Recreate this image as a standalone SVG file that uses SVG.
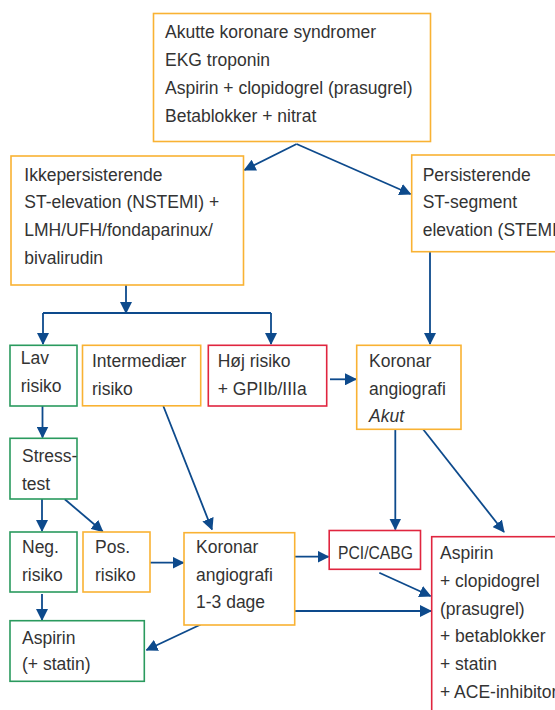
<svg xmlns="http://www.w3.org/2000/svg" width="555" height="710" viewBox="0 0 555 710">
<defs>
<style>
.t{font-family:"Liberation Sans",Arial,sans-serif;font-size:17.5px;fill:#333333}
.i{font-style:italic}
.o{fill:#ffffff;stroke:#f9b233;stroke-width:1.6}
.g{fill:#ffffff;stroke:#2a9a5e;stroke-width:1.6}
.r{fill:#ffffff;stroke:#e0253f;stroke-width:1.6}
.c{fill:none;stroke:#0d4a8c;stroke-width:1.8}
.ca{fill:none;stroke:#0d4a8c;stroke-width:1.8;marker-end:url(#ah)}
</style>
<marker id="ah" markerUnits="userSpaceOnUse" markerWidth="12" markerHeight="12" refX="11" refY="6" orient="auto" viewBox="0 0 12 12">
<path d="M0,0 L12,6 L0,12 z" fill="#0d4a8c"/>
</marker>
</defs>
<rect width="555" height="710" fill="#ffffff"/>

<g id="connectors">
<path class="ca" d="M296.6,144 L244.5,170"/>
<path class="ca" d="M296.6,144 L410.5,194"/>
<path class="ca" d="M126,285 L126,313"/>
<path class="c" d="M43,313 L271,313"/>
<path class="ca" d="M43,313 L43,344"/>
<path class="ca" d="M271,313 L271,344"/>
<path class="ca" d="M430,252 L430,344"/>
<path class="ca" d="M330,379.3 L356,379.3"/>
<path class="ca" d="M42.5,406 L42.5,437.5"/>
<path class="ca" d="M42,499 L42,531"/>
<path class="ca" d="M64.8,499.3 L102.7,531.5"/>
<path class="ca" d="M163.3,406 L212,529.5"/>
<path class="ca" d="M42,594 L42,620"/>
<path class="ca" d="M150,562.7 L183.5,562.7"/>
<path class="ca" d="M200.7,624.5 L146.5,650"/>
<path class="ca" d="M294.5,556.7 L328.5,556.7"/>
<path class="ca" d="M294.7,611 L431,611"/>
<path class="ca" d="M395.3,429.5 L395.3,529.5"/>
<path class="ca" d="M423.3,429.5 L504,532"/>
<path class="ca" d="M379.3,572.7 L430.5,596"/>
</g>

<g id="node-top">
<rect class="o" x="153.5" y="13.5" width="277" height="128"/>
<text class="t" x="165" y="37.5">Akutte koronare syndromer</text>
<text class="t" x="165" y="65.5">EKG troponin</text>
<text class="t" x="165" y="93.5">Aspirin + clopidogrel (prasugrel)</text>
<text class="t" x="165" y="121.5">Betablokker + nitrat</text>
</g>

<g id="node-nstemi">
<rect class="o" x="11" y="156" width="232.5" height="129"/>
<text class="t" x="24.3" y="180.7">Ikkepersisterende</text>
<text class="t" x="24.3" y="208.4">ST-elevation (NSTEMI) +</text>
<text class="t" x="24.3" y="236.1">LMH/UFH/fondaparinux/</text>
<text class="t" x="24.3" y="263.8">bivalirudin</text>
</g>

<g id="node-stemi">
<rect class="o" x="411.7" y="155" width="160" height="96.7"/>
<text class="t" x="422.7" y="180.7">Persisterende</text>
<text class="t" x="422.7" y="208.4">ST-segment</text>
<text class="t" x="422.7" y="236.1">elevation (STEMI)</text>
</g>

<g id="node-lav">
<rect class="g" x="10" y="345.3" width="67" height="60.7"/>
<text class="t" x="20.7" y="364">Lav</text>
<text class="t" x="20.7" y="391.7">risiko</text>
</g>

<g id="node-intermediaer">
<rect class="o" x="82.5" y="345.3" width="118.2" height="60.5"/>
<text class="t" x="92" y="367.3">Intermediær</text>
<text class="t" x="92" y="395">risiko</text>
</g>

<g id="node-hoej">
<rect class="r" x="208.3" y="345.3" width="118.4" height="60.7"/>
<text class="t" x="217.7" y="367.3">Høj risiko</text>
<text class="t" x="217.7" y="395">+ GPIIb/IIIa</text>
</g>

<g id="node-koronar-akut">
<rect class="o" x="356.7" y="345.3" width="104.3" height="84"/>
<text class="t" x="369" y="367.3">Koronar</text>
<text class="t" x="369" y="395">angiografi</text>
<text class="t i" x="369" y="421.7">Akut</text>
</g>

<g id="node-stresstest">
<rect class="g" x="10" y="438.3" width="67" height="60.7"/>
<text class="t" x="22" y="462.3">Stress-</text>
<text class="t" x="22" y="490">test</text>
</g>

<g id="node-neg">
<rect class="g" x="10" y="532" width="67" height="60"/>
<text class="t" x="22" y="553.3">Neg.</text>
<text class="t" x="22" y="580.7">risiko</text>
</g>

<g id="node-pos">
<rect class="o" x="83" y="532" width="67" height="60"/>
<text class="t" x="95" y="553.3">Pos.</text>
<text class="t" x="95" y="580.7">risiko</text>
</g>

<g id="node-koronar-dage">
<rect class="o" x="184" y="532.7" width="110.7" height="92.3"/>
<text class="t" x="196" y="553.3">Koronar</text>
<text class="t" x="196" y="580.7">angiografi</text>
<text class="t" x="196" y="608.3">1-3 dage</text>
</g>

<g id="node-pci">
<rect class="r" x="329.2" y="530.5" width="91.3" height="38.8"/>
<text class="t" x="338" y="559" textLength="75" lengthAdjust="spacingAndGlyphs">PCI/CABG</text>
</g>

<g id="node-aspirin-statin">
<rect class="g" x="10" y="620.7" width="134.3" height="60.6"/>
<text class="t" x="22" y="643.5">Aspirin</text>
<text class="t" x="22" y="670">(+ statin)</text>
</g>

<g id="node-aspirin-full">
<rect class="r" x="431.7" y="536.7" width="140" height="190"/>
<text class="t" x="440" y="559.3">Aspirin</text>
<text class="t" x="440" y="587">+ clopidogrel</text>
<text class="t" x="440" y="614.7">(prasugrel)</text>
<text class="t" x="440" y="642.4">+ betablokker</text>
<text class="t" x="440" y="670.1">+ statin</text>
<text class="t" x="440" y="697.8">+ ACE-inhibitor</text>
</g>
</svg>
